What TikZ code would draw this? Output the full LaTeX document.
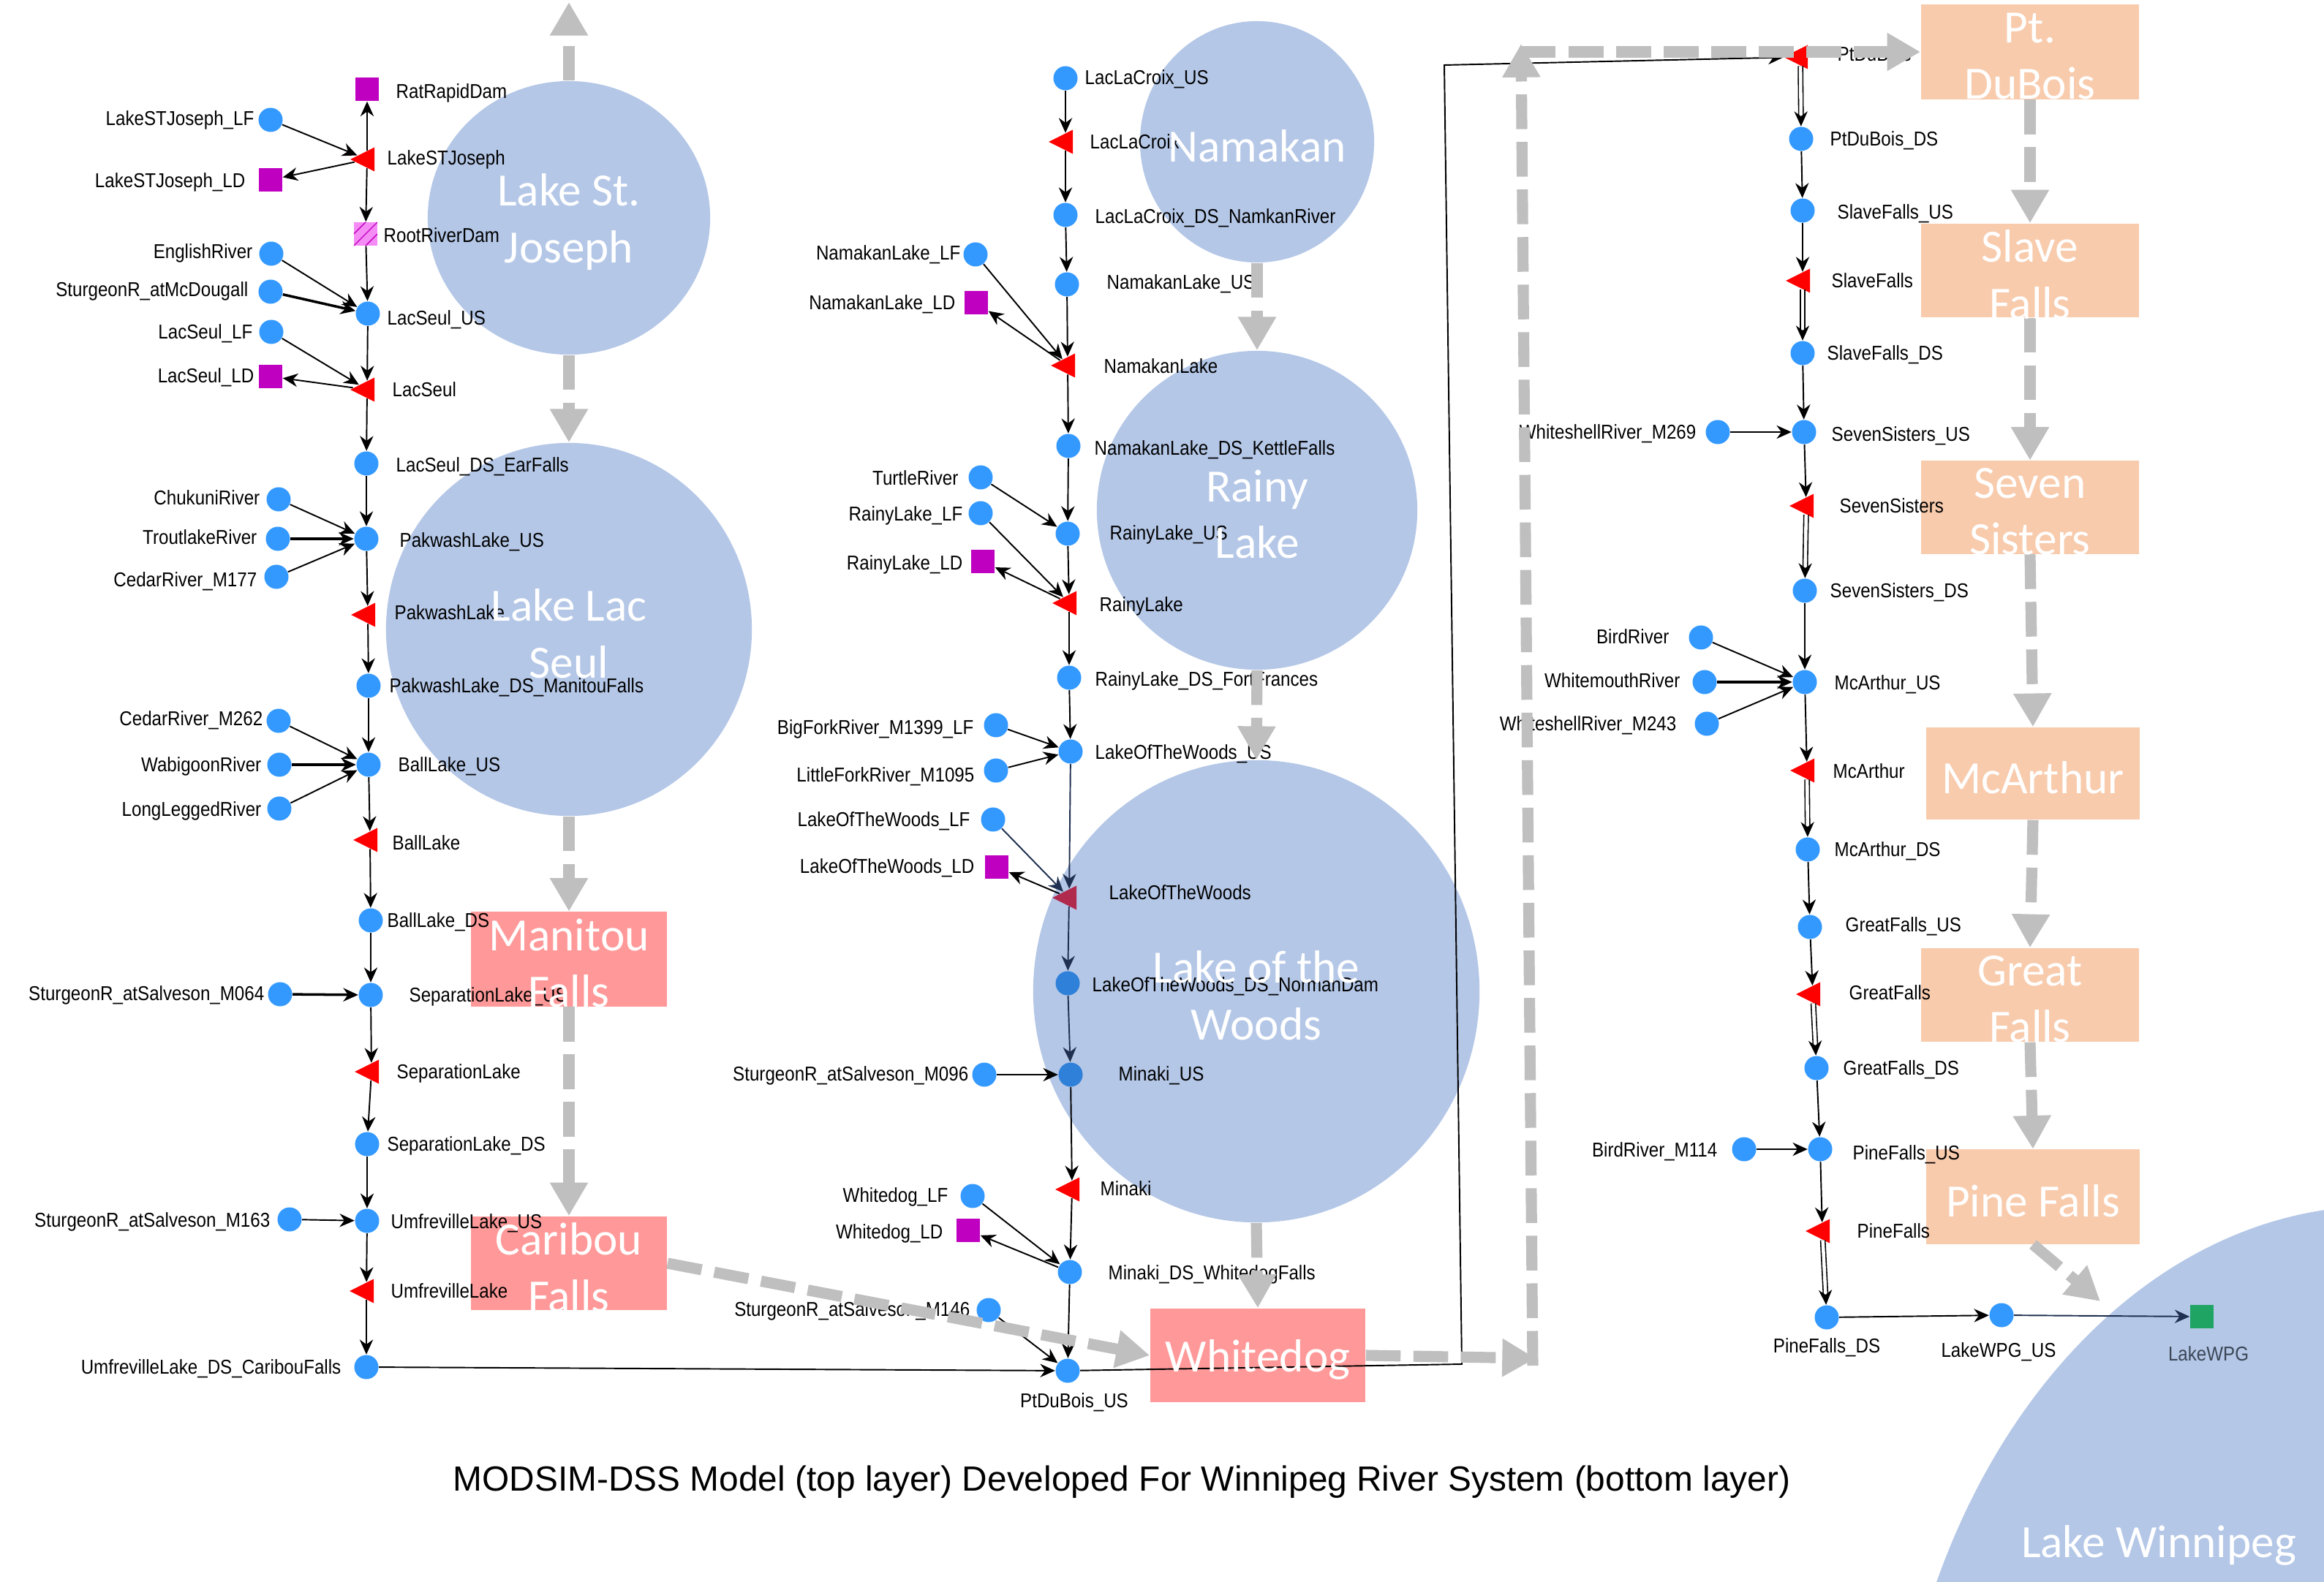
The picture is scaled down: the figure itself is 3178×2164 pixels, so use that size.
\documentclass[tikz,border=0pt]{standalone}
\usepackage{fontspec}
\setmainfont{Liberation Sans}
\newfontfamily\lblfam[FakeStretch=0.88]{Liberation Sans}
\newfontfamily\bigfam{Carlito}
\usetikzlibrary{shapes.geometric,arrows.meta}
\definecolor{nodeblue}{HTML}{3399FF}
\definecolor{nodeblued}{HTML}{2F80D8}
\definecolor{resred}{HTML}{FF0000}
\definecolor{resredd}{HTML}{B02A4E}
\definecolor{resmag}{HTML}{C000C0}
\definecolor{hatchpink}{HTML}{F58CF5}
\definecolor{sinkgreen}{HTML}{1FA463}
\definecolor{lakeblue}{HTML}{B4C7E7}
\definecolor{boxred}{HTML}{FF9999}
\definecolor{boxpeach}{HTML}{F8CBAD}
\definecolor{arrgray}{HTML}{BFBFBF}
\definecolor{edgenavy}{HTML}{1F3050}
\definecolor{wpglabel}{HTML}{3B4656}
\begin{document}
\begin{tikzpicture}[x=0.01cm,y=-0.01cm,
  bc/.style={circle,fill=nodeblue,minimum size=0.33cm,inner sep=0pt},
  bcd/.style={bc,fill=nodeblued},
  rsq/.style={rectangle,fill=resmag,minimum size=0.32cm,inner sep=0pt},
  gsq/.style={rectangle,fill=sinkgreen,minimum size=0.32cm,inner sep=0pt},
  hsq/.style={rectangle,fill=hatchpink,minimum size=0.32cm,inner sep=0pt,
    path picture={\draw[resmag,line width=0.4pt]
      (path picture bounding box.center) ++(-0.16cm,-0.16cm) -- ++(0.32cm,0.32cm)
      (path picture bounding box.center) ++(-0.16cm,0cm) -- ++(0.16cm,0.16cm)
      (path picture bounding box.center) ++(0cm,-0.16cm) -- ++(0.16cm,0.16cm);}},
  rtri/.style={isosceles triangle,isosceles triangle stretches,shape border rotate=180,
    fill=resred,minimum width=0.33cm,minimum height=0.33cm,inner sep=0pt},
  rtrid/.style={rtri,fill=resredd},
  lbl/.style={font=\lblfam\fontsize{7.8pt}{9pt}\selectfont,inner sep=0pt},
  lk/.style={ellipse,fill=lakeblue,inner sep=0pt},
  rbox/.style={rectangle,fill=boxred,inner sep=0pt},
  pbox/.style={rectangle,fill=boxpeach,inner sep=0pt},
  bigtxt/.style={font=\bigfam\fontsize{18pt}{22pt}\selectfont,text=white,align=center,inner sep=0pt,yshift=-1.6pt},
  lnk/.style={draw=black,line width=0.55pt,-{Stealth[length=5.8pt,width=5.2pt]}},
  lnkn/.style={lnk,draw=edgenavy},
  thk/.style={lnk,line width=1pt},
  dlnk/.style={lnk,double,double distance=1.3pt,line width=0.45pt},
  garr/.style={draw=arrgray,line width=4.3pt,dash pattern=on 13.5pt off 5pt,
    -{Triangle[length=13pt,width=14pt]}},
]
\useasboundingbox (0,0) rectangle (3178,2164);
\fill[white] (0,0) rectangle (3178,2164);

% ---------- lakes (bottom layer) ----------
\node[lk,minimum width=3.86cm,minimum height=3.74cm] (lsjE) at (778,298) {};
\node[lk,minimum width=5.0cm,minimum height=5.1cm] (llsE) at (778,861) {};
\node[lk,minimum width=3.2cm,minimum height=3.3cm] (namE) at (1719,194) {};
\node[lk,minimum width=4.38cm,minimum height=4.36cm] (rainyE) at (1719,698) {};
\node[lk,minimum width=6.1cm,minimum height=6.32cm] (lotwE) at (1718,1356) {};
\begin{scope}
\clip (0,0) rectangle (3178,2164);
\node[lk,minimum width=13.4cm,minimum height=18cm] (wpgE) at (3254,2550) {};
\end{scope}

\node[rbox,minimum width=2.68cm,minimum height=1.29cm] (manitou) at (778,1312) {};
\node[rbox,minimum width=2.68cm,minimum height=1.28cm] (caribou) at (778,1728) {};
\node[rbox,minimum width=2.94cm,minimum height=1.28cm] (whitedog) at (1720,1854) {};
\node[pbox,minimum width=2.98cm,minimum height=1.29cm] (ptdubois) at (2776,71) {};
\node[pbox,minimum width=2.98cm,minimum height=1.28cm] (slave) at (2776,370) {};
\node[pbox,minimum width=2.98cm,minimum height=1.27cm] (seven) at (2776,694) {};
\node[pbox,minimum width=2.91cm,minimum height=1.26cm] (mcarthur) at (2780,1058) {};
\node[pbox,minimum width=2.98cm,minimum height=1.28cm] (great) at (2776,1361) {};
\node[pbox,minimum width=2.91cm,minimum height=1.29cm] (pine) at (2780,1637) {};

% ---------- left column ----------
\node[rsq] (ratrapid) at (502,122) {};
\node[lbl,anchor=mid west] (ratrapid-l) at (541,125) {RatRapidDam};
\node[bc] (lsjlf) at (370,164) {};
\node[lbl,anchor=mid east] (lsjlf-l) at (348,162) {LakeSTJoseph\_LF};
\node[rtri] (lsj) at (502,218) {};
\node[lbl,anchor=mid west] (lsj-l) at (529,216) {LakeSTJoseph};
\node[rsq] (lsjld) at (370,246) {};
\node[lbl,anchor=mid east] (lsjld-l) at (336,247) {LakeSTJoseph\_LD};
\node[hsq] (rootriver) at (500,320) {};
\node[lbl,anchor=mid west] (rootriver-l) at (524,322) {RootRiverDam};
\node[bc] (english) at (371,347) {};
\node[lbl,anchor=mid east] (english-l) at (346,344) {EnglishRiver};
\node[bc] (sturmcd) at (370,399) {};
\node[lbl,anchor=mid east] (sturmcd-l) at (340,396) {SturgeonR\_atMcDougall};
\node[bc] (lacseulus) at (503,429) {};
\node[lbl,anchor=mid west] (lacseulus-l) at (529,435) {LacSeul\_US};
\node[bc] (lacseullf) at (371,454) {};
\node[lbl,anchor=mid east] (lacseullf-l) at (346,454) {LacSeul\_LF};
\node[rsq] (lacseulld) at (370,515) {};
\node[lbl,anchor=mid east] (lacseulld-l) at (348,514) {LacSeul\_LD};
\node[rtri] (lacseul) at (502,533) {};
\node[lbl,anchor=mid west] (lacseul-l) at (536,533) {LacSeul};
\node[bc] (lacseulds) at (501,634) {};
\node[lbl,anchor=mid west] (lacseulds-l) at (541,636) {LacSeul\_DS\_EarFalls};
\node[bc] (chukuni) at (381,683) {};
\node[lbl,anchor=mid east] (chukuni-l) at (356,681) {ChukuniRiver};
\node[bc] (troutlake) at (380,737) {};
\node[lbl,anchor=mid east] (troutlake-l) at (352,735) {TroutlakeRiver};
\node[bc] (cedar177) at (378,789) {};
\node[lbl,anchor=mid east] (cedar177-l) at (352,793) {CedarRiver\_M177};
\node[bc] (pakus) at (501,737) {};
\node[lbl,anchor=mid west] (pakus-l) at (546,739) {PakwashLake\_US};
\node[rtri] (pak) at (503,841) {};
\node[lbl,anchor=mid west] (pak-l) at (539,838) {PakwashLake};
\node[bc] (pakds) at (504,938) {};
\node[lbl,anchor=mid west] (pakds-l) at (532,938) {PakwashLake\_DS\_ManitouFalls};
\node[bc] (cedar262) at (381,986) {};
\node[lbl,anchor=mid east] (cedar262-l) at (360,983) {CedarRiver\_M262};
\node[bc] (wabigoon) at (382,1046) {};
\node[lbl,anchor=mid east] (wabigoon-l) at (358,1046) {WabigoonRiver};
\node[bc] (longlegged) at (382,1106) {};
\node[lbl,anchor=mid east] (longlegged-l) at (358,1107) {LongLeggedRiver};
\node[bc] (ballus) at (504,1046) {};
\node[lbl,anchor=mid west] (ballus-l) at (544,1046) {BallLake\_US};
\node[rtri] (ball) at (506,1149) {};
\node[lbl,anchor=mid west] (ball-l) at (536,1153) {BallLake};
\node[bc] (ballds) at (507,1259) {};
\node[lbl,anchor=mid west] (ballds-l) at (529,1259) {BallLake\_DS};
\node[bc] (stur064) at (383,1360) {};
\node[lbl,anchor=mid east] (stur064-l) at (362,1359) {SturgeonR\_atSalveson\_M064};
\node[bc] (sepus) at (507,1361) {};
\node[lbl,anchor=mid west] (sepus-l) at (559,1361) {SeparationLake\_US};
\node[rtri] (sep) at (508,1466) {};
\node[lbl,anchor=mid west] (sep-l) at (542,1466) {SeparationLake};
\node[bc] (sepds) at (502,1565) {};
\node[lbl,anchor=mid west] (sepds-l) at (529,1565) {SeparationLake\_DS};
\node[bc] (stur163) at (396,1668) {};
\node[lbl,anchor=mid east] (stur163-l) at (370,1669) {SturgeonR\_atSalveson\_M163};
\node[bc] (umfus) at (502,1670) {};
\node[lbl,anchor=mid west] (umfus-l) at (534,1671) {UmfrevilleLake\_US};
\node[rtri] (umf) at (501,1766) {};
\node[lbl,anchor=mid west] (umf-l) at (534,1766) {UmfrevilleLake};
\node[bc] (umfds) at (501,1870) {};
\node[lbl,anchor=mid east] (umfds-l) at (467,1870) {UmfrevilleLake\_DS\_CaribouFalls};

% ---------- middle column ----------
\node[bc] (llcus) at (1457,107) {};
\node[lbl,anchor=mid west] (llcus-l) at (1483,106) {LacLaCroix\_US};
\node[rtri] (llc) at (1457,194) {};
\node[lbl,anchor=mid west] (llc-l) at (1490,194) {LacLaCroix};
\node[bc] (llcds) at (1457,294) {};
\node[lbl,anchor=mid west] (llcds-l) at (1497,296) {LacLaCroix\_DS\_NamkanRiver};
\node[bc] (namlf) at (1334,348) {};
\node[lbl,anchor=mid east] (namlf-l) at (1314,346) {NamakanLake\_LF};
\node[bc] (namus) at (1459,389) {};
\node[lbl,anchor=mid west] (namus-l) at (1513,386) {NamakanLake\_US};
\node[rsq] (namld) at (1335,414) {};
\node[lbl,anchor=mid east] (namld-l) at (1307,414) {NamakanLake\_LD};
\node[rtri] (nam) at (1460,500) {};
\node[lbl,anchor=mid west] (nam-l) at (1509,501) {NamakanLake};
\node[bc] (namds) at (1461,610) {};
\node[lbl,anchor=mid west] (namds-l) at (1496,613) {NamakanLake\_DS\_KettleFalls};
\node[bc] (turtle) at (1341,653) {};
\node[lbl,anchor=mid east] (turtle-l) at (1311,654) {TurtleRiver};
\node[bc] (rainylf) at (1341,702) {};
\node[lbl,anchor=mid east] (rainylf-l) at (1317,703) {RainyLake\_LF};
\node[bc] (rainyus) at (1460,730) {};
\node[lbl,anchor=mid west] (rainyus-l) at (1517,729) {RainyLake\_US};
\node[rsq] (rainyld) at (1344,768) {};
\node[lbl,anchor=mid east] (rainyld-l) at (1317,770) {RainyLake\_LD};
\node[rtri] (rainy) at (1462,825) {};
\node[lbl,anchor=mid west] (rainy-l) at (1503,827) {RainyLake};
\node[bc] (rainyds) at (1462,927) {};
\node[lbl,anchor=mid west] (rainyds-l) at (1497,929) {RainyLake\_DS\_FortFrances};
\node[bc] (bigfork) at (1362,992) {};
\node[lbl,anchor=mid east] (bigfork-l) at (1332,995) {BigForkRiver\_M1399\_LF};
\node[bc] (lotwus) at (1464,1028) {};
\node[lbl,anchor=mid west] (lotwus-l) at (1497,1029) {LakeOfTheWoods\_US};
\node[bc] (littlefork) at (1362,1054) {};
\node[lbl,anchor=mid east] (littlefork-l) at (1333,1060) {LittleForkRiver\_M1095};
\node[bc] (lotwlf) at (1358,1121) {};
\node[lbl,anchor=mid east] (lotwlf-l) at (1327,1121) {LakeOfTheWoods\_LF};
\node[rsq] (lotwld) at (1363,1186) {};
\node[lbl,anchor=mid east] (lotwld-l) at (1333,1185) {LakeOfTheWoods\_LD};
\node[rtrid] (lotw) at (1462,1228) {};
\node[lbl,anchor=mid west] (lotw-l) at (1516,1221) {LakeOfTheWoods};
\node[bcd] (lotwds) at (1460,1345) {};
\node[lbl,anchor=mid west] (lotwds-l) at (1493,1347) {LakeOfTheWoods\_DS\_NormanDam};
\node[bc] (stur096) at (1346,1470) {};
\node[lbl,anchor=mid east] (stur096-l) at (1325,1469) {SturgeonR\_atSalveson\_M096};
\node[bcd] (minakius) at (1464,1470) {};
\node[lbl,anchor=mid west] (minakius-l) at (1529,1469) {Minaki\_US};
\node[rtri] (minaki) at (1466,1627) {};
\node[lbl,anchor=mid west] (minaki-l) at (1504,1626) {Minaki};
\node[bc] (wdlf) at (1330,1636) {};
\node[lbl,anchor=mid east] (wdlf-l) at (1297,1635) {Whitedog\_LF};
\node[rsq] (wdld) at (1324,1683) {};
\node[lbl,anchor=mid east] (wdld-l) at (1290,1685) {Whitedog\_LD};
\node[bc] (minakids) at (1463,1740) {};
\node[lbl,anchor=mid west] (minakids-l) at (1515,1741) {Minaki\_DS\_WhitedogFalls};
\node[bc] (stur146) at (1352,1792) {};
\node[lbl,anchor=mid east] (stur146-l) at (1327,1791) {SturgeonR\_atSalveson\_M146};
\node[bc] (pdbus) at (1460,1875) {};
\node[lbl,anchor=north] (pdbus-l) at (1469,1905) {PtDuBois\_US};

% ---------- right column ----------
\node[rtri] (pdb) at (2462,78) {};
\node[lbl,anchor=mid west] (pdb-l) at (2512,74) {PtDuBois};
\node[bc] (pdbds) at (2463,190) {};
\node[lbl,anchor=mid west] (pdbds-l) at (2502,190) {PtDuBois\_DS};
\node[bc] (sfus) at (2465,288) {};
\node[lbl,anchor=mid west] (sfus-l) at (2512,290) {SlaveFalls\_US};
\node[rtri] (sf) at (2465,384) {};
\node[lbl,anchor=mid west] (sf-l) at (2504,384) {SlaveFalls};
\node[bc] (sfds) at (2465,483) {};
\node[lbl,anchor=mid west] (sfds-l) at (2498,483) {SlaveFalls\_DS};
\node[bc] (ws269) at (2349,591) {};
\node[lbl,anchor=mid east] (ws269-l) at (2320,591) {WhiteshellRiver\_M269};
\node[bc] (ssus) at (2467,591) {};
\node[lbl,anchor=mid west] (ssus-l) at (2504,594) {SevenSisters\_US};
\node[rtri] (ss) at (2470,692) {};
\node[lbl,anchor=mid west] (ss-l) at (2515,692) {SevenSisters};
\node[bc] (ssds) at (2468,808) {};
\node[lbl,anchor=mid west] (ssds-l) at (2502,808) {SevenSisters\_DS};
\node[bc] (bird) at (2326,872) {};
\node[lbl,anchor=mid east] (bird-l) at (2283,871) {BirdRiver};
\node[bc] (whitemouth) at (2331,933) {};
\node[lbl,anchor=mid east] (whitemouth-l) at (2298,931) {WhitemouthRiver};
\node[bc] (ws243) at (2334,990) {};
\node[lbl,anchor=mid east] (ws243-l) at (2293,990) {WhiteshellRiver\_M243};
\node[bc] (mcaus) at (2468,933) {};
\node[lbl,anchor=mid west] (mcaus-l) at (2508,934) {McArthur\_US};
\node[rtri] (mca) at (2471,1054) {};
\node[lbl,anchor=mid west] (mca-l) at (2506,1055) {McArthur};
\node[bc] (mcads) at (2472,1162) {};
\node[lbl,anchor=mid west] (mcads-l) at (2508,1162) {McArthur\_DS};
\node[bc] (gfus) at (2475,1268) {};
\node[lbl,anchor=mid west] (gfus-l) at (2523,1265) {GreatFalls\_US};
\node[rtri] (gf) at (2479,1360) {};
\node[lbl,anchor=mid west] (gf-l) at (2528,1358) {GreatFalls};
\node[bc] (gfds) at (2484,1461) {};
\node[lbl,anchor=mid west] (gfds-l) at (2520,1461) {GreatFalls\_DS};
\node[bc] (bird114) at (2385,1572) {};
\node[lbl,anchor=mid east] (bird114-l) at (2349,1573) {BirdRiver\_M114};
\node[bc] (pfus) at (2489,1572) {};
\node[lbl,anchor=mid west] (pfus-l) at (2533,1577) {PineFalls\_US};
\node[rtri] (pf) at (2492,1684) {};
\node[lbl,anchor=mid west] (pf-l) at (2539,1684) {PineFalls};
\node[bc] (pfds) at (2498,1802) {};
\node[lbl,anchor=north] (pfds-l) at (2498,1830) {PineFalls\_DS};
\node[bc] (wpgus) at (2737,1799) {};
\node[lbl,anchor=north] (wpgus-l) at (2733,1836) {LakeWPG\_US};
\node[gsq] (wpg) at (3011,1801) {};
\node[lbl,anchor=north,text=wpglabel] (wpg-l) at (3020,1841) {LakeWPG};

% ---------- links ----------
\draw[lnk] (lsjlf) -- (lsj);
\draw[lnk] (lsj) -- (lsjld);
\draw[lnk] (lsj) -- (ratrapid);
\draw[lnk] (lsj) -- (rootriver);
\draw[lnk] (rootriver) -- (lacseulus);
\draw[lnk] (english) -- (lacseulus);
\draw[thk] (sturmcd) -- (lacseulus);
\draw[lnk] (lacseulus) -- (lacseul);
\draw[lnk] (lacseullf) -- (lacseul);
\draw[lnk] (lacseul) -- (lacseulld);
\draw[lnk] (lacseul) -- (lacseulds);
\draw[lnk] (lacseulds) -- (pakus);
\draw[lnk] (chukuni) -- (pakus);
\draw[thk] (troutlake) -- (pakus);
\draw[lnk] (cedar177) -- (pakus);
\draw[lnk] (pakus) -- (pak);
\draw[lnk] (pak) -- (pakds);
\draw[lnk] (pakds) -- (ballus);
\draw[lnk] (cedar262) -- (ballus);
\draw[thk] (wabigoon) -- (ballus);
\draw[lnk] (longlegged) -- (ballus);
\draw[lnk] (ballus) -- (ball);
\draw[lnk] (ball) -- (ballds);
\draw[lnk] (ballds) -- (sepus);
\draw[thk] (stur064) -- (sepus);
\draw[lnk] (sepus) -- (sep);
\draw[lnk] (sep) -- (sepds);
\draw[lnk] (sepds) -- (umfus);
\draw[lnk] (stur163) -- (umfus);
\draw[lnk] (umfus) -- (umf);
\draw[lnk] (umf) -- (umfds);
\draw[lnk] (umfds) -- (pdbus);

\draw[lnk] (llcus) -- (llc);
\draw[lnk] (llc) -- (llcds);
\draw[lnk] (llcds) -- (namus);
\draw[lnk] (namus) -- (nam);
\draw[lnk] (namlf) -- (nam);
\draw[lnk] (nam) -- (namld);
\draw[lnk] (nam) -- (namds);
\draw[lnk] (namds) -- (rainyus);
\draw[lnk] (turtle) -- (rainyus);
\draw[lnk] (rainyus) -- (rainy);
\draw[lnk] (rainylf) -- (rainy);
\draw[lnk] (rainy) -- (rainyld);
\draw[lnk] (rainy) -- (rainyds);
\draw[lnk] (rainyds) -- (lotwus);
\draw[lnk] (bigfork) -- (lotwus);
\draw[lnk] (littlefork) -- (lotwus);
\draw[lnkn] (lotwus) -- (lotw);
\draw[lnkn] (lotwlf) -- (lotw);
\draw[lnk] (lotw) -- (lotwld);
\draw[lnkn] (lotw) -- (lotwds);
\draw[lnkn] (lotwds) -- (minakius);
\draw[lnk] (stur096) -- (minakius);
\draw[lnk] (minakius) -- (minaki);
\draw[lnk] (minaki) -- (minakids);
\draw[lnk] (wdlf) -- (minakids);
\draw[lnk] (minakids) -- (wdld);
\draw[lnk] (minakids) -- (pdbus);
\draw[lnk] (stur146) -- (pdbus);
\coordinate (pc1) at (1999,1866);
\coordinate (pc2) at (1975,89);
\draw[lnk] (pdbus) -- (pc1) -- (pc2) -- (pdb);

\draw[dlnk] (pdb) -- (pdbds);
\draw[lnk] (pdbds) -- (sfus);
\draw[lnk] (sfus) -- (sf);
\draw[dlnk] (sf) -- (sfds);
\draw[lnk] (sfds) -- (ssus);
\draw[lnk] (ws269) -- (ssus);
\draw[lnk] (ssus) -- (ss);
\draw[dlnk] (ss) -- (ssds);
\draw[lnk] (ssds) -- (mcaus);
\draw[lnk] (bird) -- (mcaus);
\draw[thk] (whitemouth) -- (mcaus);
\draw[lnk] (ws243) -- (mcaus);
\draw[lnk] (mcaus) -- (mca);
\draw[dlnk] (mca) -- (mcads);
\draw[lnk] (mcads) -- (gfus);
\draw[lnk] (gfus) -- (gf);
\draw[dlnk] (gf) -- (gfds);
\draw[lnk] (gfds) -- (pfus);
\draw[lnk] (bird114) -- (pfus);
\draw[lnk] (pfus) -- (pf);
\draw[dlnk] (pf) -- (pfds);
\draw[lnk] (pfds) -- (wpgus);
\draw[lnkn] (wpgus) -- (wpg);

% ---------- grey flow arrows (bottom layer) ----------
\coordinate (gtop) at (778,3);
\draw[garr] (lsjE.north) -- (gtop);
\draw[garr] (lsjE.south) -- (llsE.north);
\draw[garr] (llsE.south) -- (manitou.north);
\draw[garr] (manitou.south) -- (caribou.north);
\draw[garr] (caribou.east) -- (whitedog.west);
\draw[garr] (namE.south) -- (rainyE.north);
\draw[garr] (rainyE.south) -- (lotwE.north);
\draw[garr] (lotwE.south) -- (whitedog.north);
\coordinate (ga) at (2100,1858);
\coordinate (gb) at (2096,1868);
\coordinate (gc) at (2080,60);
\coordinate (gd) at (2080,71);
\draw[garr] (whitedog.east) -- (ga);
\draw[garr] (gb) -- (gc);
\draw[garr] (gd) -- (ptdubois.west);
\draw[garr] (ptdubois.south) -- (slave.north);
\draw[garr] (slave.south) -- (seven.north);
\draw[garr] (seven.south) -- (mcarthur.north);
\draw[garr] (mcarthur.south) -- (great.north);
\draw[garr] (great.south) -- (pine.north);
\coordinate (gwpg) at (2872,1780);
\draw[garr] (pine.south) -- (gwpg);

% ---------- lake names ----------
\node[bigtxt] (lsjE-t) at (lsjE.center) {Lake St.\\Joseph};
\node[bigtxt] (llsE-t) at (llsE.center) {Lake Lac\\Seul};
\node[bigtxt] (namE-t) at (namE.center) {Namakan};
\node[bigtxt] (rainyE-t) at (rainyE.center) {Rainy\\Lake};
\node[bigtxt] (lotwE-t) at (lotwE.center) {Lake of the\\Woods};
\node[bigtxt] (wpgE-t) at (2952,2108) {Lake Winnipeg};
\node[bigtxt] (manitou-t) at (manitou.center) {Manitou\\Falls};
\node[bigtxt] (caribou-t) at (caribou.center) {Caribou\\Falls};
\node[bigtxt] (whitedog-t) at (whitedog.center) {Whitedog};
\node[bigtxt] (ptdubois-t) at (ptdubois.center) {Pt.\\DuBois};
\node[bigtxt] (slave-t) at (slave.center) {Slave\\Falls};
\node[bigtxt] (seven-t) at (seven.center) {Seven\\Sisters};
\node[bigtxt] (mcarthur-t) at (mcarthur.center) {McArthur};
\node[bigtxt] (great-t) at (great.center) {Great\\Falls};
\node[bigtxt] (pine-t) at (pine.center) {Pine Falls};

% ---------- caption ----------
\node[font=\fontsize{13.6pt}{16pt}\selectfont,inner sep=0pt] (caption) at (1534,2027)
  {MODSIM-DSS Model (top layer) Developed For Winnipeg River System (bottom layer)};
\end{tikzpicture}
\end{document}
